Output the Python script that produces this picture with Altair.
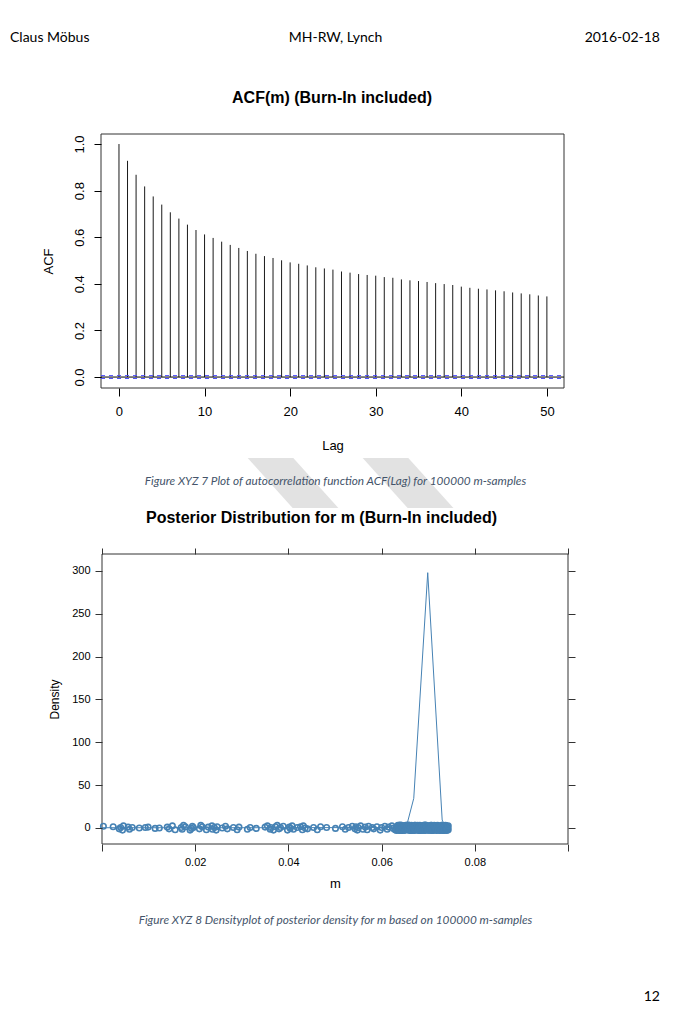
import altair as alt
import pandas as pd

# ---------------- data ----------------
lags = list(range(51))
acf_vals = [1.000, 0.928, 0.868, 0.818, 0.775, 0.740, 0.707, 0.680, 0.654, 0.631,
            0.612, 0.597, 0.581, 0.567, 0.554, 0.541, 0.529, 0.519, 0.511, 0.501,
            0.492, 0.486, 0.479, 0.471, 0.466, 0.461, 0.453, 0.448, 0.442, 0.438,
            0.435, 0.429, 0.426, 0.419, 0.415, 0.412, 0.408, 0.403, 0.399, 0.395,
            0.388, 0.383, 0.379, 0.376, 0.372, 0.368, 0.363, 0.359, 0.355, 0.350, 0.346]
ci_bound = 0.0062

curve_m = [0.0000, 0.0150, 0.0300, 0.0450, 0.0600, 0.0640, 0.0656, 0.0669, 0.0699, 0.0730, 0.0737, 0.0748]
curve_d = [0.3, 0.3, 0.3, 0.4, 0.5, 1.0, 7.4, 34.6, 298.0, 9.3, 1.5, 0.2]

tail_m = [0.0003, 0.0024, 0.0037, 0.0040, 0.0044, 0.0046, 0.0056, 0.0059, 0.0065, 0.0080,
          0.0093, 0.0099, 0.0114, 0.0123, 0.0140, 0.0144, 0.0151, 0.0157, 0.0170, 0.0172,
          0.0175, 0.0179, 0.0189, 0.0192, 0.0194, 0.0196, 0.0209, 0.0212, 0.0215, 0.0224,
          0.0228, 0.0236, 0.0237, 0.0241, 0.0245, 0.0247, 0.0258, 0.0265, 0.0269, 0.0282,
          0.0290, 0.0294, 0.0312, 0.0318, 0.0331, 0.0350, 0.0355, 0.0361, 0.0362, 0.0368,
          0.0372, 0.0376, 0.0380, 0.0383, 0.0389, 0.0398, 0.0402, 0.0404, 0.0408, 0.0411,
          0.0419, 0.0426, 0.0430, 0.0432, 0.0436, 0.0441, 0.0454, 0.0462, 0.0469, 0.0482,
          0.0501, 0.0516, 0.0522, 0.0529, 0.0537, 0.0543, 0.0545, 0.0548, 0.0550, 0.0555,
          0.0560, 0.0565, 0.0569, 0.0572, 0.0580, 0.0583, 0.0590, 0.0597, 0.0600, 0.0607,
          0.0612, 0.0615, 0.0622, 0.0625, 0.0629, 0.0632]
tail_j = [2.0, 1.5, -1.0, 0.5, -2.5, 2.5, 1.0, -1.5, 0.5, 0.0,
          0.5, 1.0, -0.5, 0.0, 1.0, -1.0, 2.5, -2.0, 0.5, -1.5,
          3.0, 1.5, -2.5, -0.5, 2.0, 0.5, -1.0, 3.0, 1.5, -2.0,
          1.0, 2.5, -1.5, 0.5, -2.5, 1.5, 0.0, 2.0, -1.0, 0.5,
          -2.0, 1.0, -1.5, 0.5, -0.5, 1.0, 2.5, -1.5, 0.5, -2.5,
          1.5, 3.0, -1.0, 0.5, 2.0, -2.5, 1.0, -0.5, 2.5, -1.5,
          0.5, 1.5, -2.0, 2.5, 0.0, -1.0, 0.5, -2.0, 1.5, 0.5,
          -0.5, 1.5, -1.5, 0.5, 2.0, -1.0, 1.5, -2.5, 0.5, 2.5,
          -1.5, 1.0, -2.0, 2.0, 0.5, -1.0, 1.5, -2.5, 0.5, 2.0,
          -1.5, 1.0, 2.5, -0.5, -2.0, 1.0]

blob_m = [0.0632, 0.0634, 0.0636, 0.0638, 0.0640, 0.0642, 0.0644, 0.0646,
          0.0648, 0.0650, 0.0652, 0.0654, 0.0656, 0.0658, 0.0660, 0.0662,
          0.0664, 0.0666, 0.0668, 0.0670, 0.0672, 0.0674, 0.0676, 0.0678,
          0.0680, 0.0682, 0.0684, 0.0686, 0.0688, 0.0690, 0.0692, 0.0694,
          0.0696, 0.0698, 0.0700, 0.0702, 0.0704, 0.0706, 0.0708, 0.0710,
          0.0712, 0.0714, 0.0716, 0.0718, 0.0720, 0.0722, 0.0724, 0.0726,
          0.0728, 0.0730, 0.0732, 0.0734, 0.0736, 0.0738, 0.0740, 0.0742]
blob_m2 = [0.0633, 0.0635, 0.0637, 0.0639, 0.0641, 0.0643, 0.0645, 0.0647,
           0.0649, 0.0651, 0.0653, 0.0655, 0.0657, 0.0659, 0.0661, 0.0663,
           0.0665, 0.0667, 0.0669, 0.0671, 0.0673, 0.0675, 0.0677, 0.0679,
           0.0681, 0.0683, 0.0685, 0.0687, 0.0689, 0.0691, 0.0693, 0.0695,
           0.0697, 0.0699, 0.0701, 0.0703, 0.0705, 0.0707, 0.0709, 0.0711,
           0.0713, 0.0715, 0.0717, 0.0719, 0.0721, 0.0723, 0.0725, 0.0727,
           0.0729, 0.0731, 0.0733, 0.0735, 0.0737, 0.0739, 0.0741, 0.0743]
blob_ja = [-3.0, 1.5, -0.5, 3.0, -2.0, 0.5, 2.5, -1.5,
           1.0, -2.5, 3.0, 0.0, -1.0, 2.0, -3.0, 1.5,
           -0.5, 2.5, -2.0, 0.5, 3.0, -1.5, 1.0, -2.5,
           2.0, 0.0, -3.0, 1.5, -1.0, 2.5, -2.0, 0.5,
           3.0, -1.5, 1.0, -2.5, 2.0, -0.5, -3.0, 1.5,
           0.0, 2.5, -2.0, 0.5, 3.0, -1.5, 1.0, -2.5,
           2.0, -0.5, -3.0, 1.5, 0.0, 2.5, -2.0, 0.5]
blob_jb = [1.0, -2.0, 2.5, -1.0, 3.5, -3.0, 0.0, 2.0,
           -2.5, 1.5, -1.0, 3.0, -2.0, 0.5, 2.5, -1.5,
           3.0, -0.5, 1.5, -3.0, 0.0, 2.5, -2.0, 1.0,
           -1.5, 3.0, 0.5, -2.5, 2.0, -1.0, 3.5, -3.0,
           0.5, 2.0, -2.0, 1.0, -1.5, 3.0, 0.0, -2.5,
           2.5, -1.0, 1.5, -3.0, 0.5, 2.0, -2.0, 1.0,
           -0.5, 3.0, -2.5, 1.5, -1.0, 2.5, -3.0, 0.0]
blob_jc = [0.0, 2.5, -2.5, 1.0, -1.0, 3.0, -3.0, 1.5,
           -1.5, 0.5, 2.0, -2.0, 3.5, -0.5, 1.0, -3.0,
           2.0, -1.0, 0.0, 3.0, -2.5, 1.5, -1.5, 2.5,
           -3.0, 0.5, 2.0, -0.5, 1.0, -2.0, 3.0, 0.0,
           -1.0, 2.5, -2.5, 1.5, 0.5, -3.0, 2.0, -1.5,
           3.0, 0.0, -2.0, 1.0, 2.5, -1.0, -3.0, 1.5,
           0.5, -2.5, 2.0, -0.5, 3.0, -1.5, 1.0, -2.0]
blob_jd = [-2.0, 3.0, 0.5, -3.0, 2.0, -1.5, 1.0, -0.5,
           2.5, -2.5, 0.0, 1.5, -1.0, 3.0, -2.0, 0.5,
           -3.0, 2.0, 1.0, -1.5, 2.5, -0.5, 3.0, -2.5,
           1.0, -1.0, 0.0, 2.5, -3.0, 1.5, -2.0, 3.0,
           0.5, -2.5, 2.0, -0.5, 1.0, 3.0, -1.5, -3.0,
           2.0, 0.0, -1.0, 2.5, -2.5, 1.5, 0.5, -2.0,
           3.0, -1.5, 1.0, -3.0, 2.0, 0.0, -0.5, 2.5]

acf_x_ticks = [0, 10, 20, 30, 40, 50]
acf_y_ticks = [0.0, 0.2, 0.4, 0.6, 0.8, 1.0]
dens_x_ticks = [0.0, 0.02, 0.04, 0.06, 0.08, 0.10]
dens_y_ticks = [0, 50, 100, 150, 200, 250, 300]

header_left = "Claus Möbus"
header_mid = "MH-RW, Lynch"
header_right = "2016-02-18"
title_acf = "ACF(m) (Burn-In included)"
title_dens = "Posterior Distribution for m (Burn-In included)"
caption_acf = "Figure XYZ 7 Plot of autocorrelation function ACF(Lag) for 100000 m-samples"
caption_dens = "Figure XYZ 8 Densityplot of posterior density for m based on 100000 m-samples"
page_no = "12"

# ---------------- layout ----------------
W, H = 664, 1014
RF = "Liberation Sans"
DF = "Lato"
BLUE = "#4682b4"
CAPC = "#44546a"

acf_xdom = [-2.1, 52.0]
acf_ydom = [-0.047, 1.043]
acf_xr = [93, 556]
acf_yr = [380, 126]
den_xdom = [0.0, 0.1]
den_ydom = [-18.7, 319.8]
den_xr = [94, 560]
den_yr = [836, 546]

xa = alt.Scale(domain=acf_xdom, range=acf_xr, nice=False, zero=False)
ya = alt.Scale(domain=acf_ydom, range=acf_yr, nice=False, zero=False)
xd = alt.Scale(domain=den_xdom, range=den_xr, nice=False, zero=False)
yd = alt.Scale(domain=den_ydom, range=den_yr, nice=False, zero=False)

acf_df = pd.DataFrame({"lag": lags, "acf": acf_vals, "zero": [0.0] * len(lags)})
acf_frame_df = pd.DataFrame({"x0": [acf_xdom[0]], "x1": [acf_xdom[1]],
                             "y0": [acf_ydom[0]], "y1": [acf_ydom[1]]})
hline_df = pd.DataFrame({"x0": [acf_xdom[0]] * 3, "x1": [acf_xdom[1]] * 3,
                         "y": [0.0, ci_bound, -ci_bound], "kind": ["zero", "ci", "ci"]})

acf_x_axis = alt.Axis(orient="bottom", offset=acf_yr[0] - H, values=acf_x_ticks, domain=False,
                      grid=False, tickSize=8, tickColor="black", labelFont=RF, labelFontSize=13,
                      labelColor="black", labelPadding=9, labelFlush=False, labelOverlap=False,
                      title="Lag", titleFont=RF, titleFontSize=13, titleFontWeight="normal",
                      titleColor="black", titlePadding=21, zindex=2)
acf_y_axis = alt.Axis(orient="left", offset=-acf_xr[0], values=acf_y_ticks, format=".1f",
                      domain=False, grid=False, tickSize=7, tickColor="black", labelFont=RF,
                      labelFontSize=13, labelColor="black", labelAngle=270, labelAlign="center",
                      labelBaseline="bottom", labelPadding=8, labelOverlap=False,
                      title="ACF", titleFont=RF, titleFontSize=13, titleFontWeight="normal",
                      titleColor="black", titlePadding=18, zindex=2)

acf_frame = alt.Chart(acf_frame_df).mark_rect(fillOpacity=0, stroke="#333333", strokeWidth=1).encode(
    x=alt.X("x0:Q", scale=xa, axis=None), x2="x1:Q",
    y=alt.Y("y0:Q", scale=ya, axis=None), y2="y1:Q")
acf_stems = alt.Chart(acf_df).mark_rule(color="#1a1a1a", strokeWidth=1).encode(
    x=alt.X("lag:Q", scale=xa, axis=acf_x_axis),
    y=alt.Y("acf:Q", scale=ya, axis=acf_y_axis), y2="zero:Q")
acf_zero = alt.Chart(hline_df).transform_filter("datum.kind == 'zero'").mark_rule(
    color="black", strokeWidth=1).encode(
    x=alt.X("x0:Q", scale=xa, axis=None), x2="x1:Q", y=alt.Y("y:Q", scale=ya, axis=None))
acf_ci = alt.Chart(hline_df).transform_filter("datum.kind == 'ci'").mark_rule(
    color="#4d4dff", strokeWidth=1, strokeDash=[4, 4]).encode(
    x=alt.X("x0:Q", scale=xa, axis=None), x2="x1:Q", y=alt.Y("y:Q", scale=ya, axis=None))

acf_group = alt.layer(acf_frame, acf_stems, acf_zero, acf_ci).resolve_axis(x="independent", y="independent")

# density panel
curve_df = pd.DataFrame({"m": curve_m, "d": curve_d, "i": list(range(len(curve_m)))})
pts_df = pd.DataFrame({"m": tail_m + blob_m + blob_m + blob_m2 + blob_m2,
                       "j": tail_j + blob_ja + blob_jb + blob_jc + blob_jd})
den_frame_df = pd.DataFrame({"x0": [den_xdom[0]], "x1": [den_xdom[1]],
                             "y0": [den_ydom[0]], "y1": [den_ydom[1]]})

label_expr = "datum.value > 0.005 && datum.value < 0.095 ? format(datum.value, '.2f') : ''"
den_x_axis = alt.Axis(orient="bottom", offset=den_yr[0] - H, values=dens_x_ticks, labelExpr=label_expr,
                      domain=False, grid=False, tickSize=7, tickColor="#333333", labelFont=RF,
                      labelFontSize=11, labelColor="black", labelPadding=5, labelFlush=False,
                      labelOverlap=False, title="m", titleFont=RF, titleFontSize=13,
                      titleFontWeight="normal", titleColor="black", titlePadding=10, zindex=2)
den_y_axis = alt.Axis(orient="left", offset=-den_xr[0], values=dens_y_ticks, domain=False, grid=False,
                      tickSize=7, tickColor="#333333", labelFont=RF, labelFontSize=11,
                      labelColor="black", labelPadding=5, labelOverlap=False, title="Density",
                      titleFont=RF, titleFontSize=12, titleFontWeight="normal", titleColor="black",
                      titlePadding=10, zindex=2)
den_top_axis = alt.Axis(orient="top", offset=-den_yr[1], values=dens_x_ticks, domain=False, grid=False,
                        labels=False, tickSize=6, tickColor="#333333", title=None, zindex=2)
den_right_axis = alt.Axis(orient="right", offset=den_xr[1] - W, values=dens_y_ticks, domain=False,
                          grid=False, labels=False, tickSize=7, tickColor="#333333", title=None, zindex=2)

den_frame = alt.Chart(den_frame_df).mark_rect(fillOpacity=0, stroke="#333333", strokeWidth=1).encode(
    x=alt.X("x0:Q", scale=xd, axis=None), x2="x1:Q",
    y=alt.Y("y0:Q", scale=yd, axis=None), y2="y1:Q")
den_line = alt.Chart(curve_df).mark_line(color=BLUE, strokeWidth=1).encode(
    x=alt.X("m:Q", scale=xd, axis=den_x_axis),
    y=alt.Y("d:Q", scale=yd, axis=den_y_axis),
    order="i:Q")
den_pts = alt.Chart(pts_df).mark_point(shape="circle", filled=False, color=BLUE, size=30,
                                       strokeWidth=1.6, opacity=1).encode(
    x=alt.X("m:Q", scale=xd, axis=None), y=alt.Y("j:Q", scale=yd, axis=None))
den_axes2 = alt.Chart(curve_df).mark_point(opacity=0).encode(
    x=alt.X("m:Q", scale=xd, axis=den_top_axis),
    y=alt.Y("d:Q", scale=yd, axis=den_right_axis))

den_group = alt.layer(den_frame, den_pts, den_line, den_axes2).resolve_axis(x="independent", y="independent")

# texts and decoration
one = pd.DataFrame({"a": [0]})


def txt(s, x, y, font, size, align="center", weight="normal", style="normal", color="black"):
    return alt.Chart(one).mark_text(text=s, font=font, fontSize=size, align=align, baseline="middle",
                                    fontWeight=weight, fontStyle=style, color=color).encode(
        x=alt.value(x), y=alt.value(y))


def band(x1, y1, x2, y2):
    return alt.Chart(one).mark_rule(color="#e2e2e2", strokeWidth=34, strokeCap="butt").encode(
        x=alt.value(x1), y=alt.value(y1), x2=alt.value(x2), y2=alt.value(y2))


def white_box(x1, y1, x2, y2):
    return alt.Chart(one).mark_rect(color="white").encode(
        x=alt.value(x1), y=alt.value(y1), x2=alt.value(x2), y2=alt.value(y2))


layers = [
    band(240, 425, 330, 525),
    band(355, 425, 445, 525),
    white_box(200, 400, 480, 450),
    white_box(200, 500, 480, 540),
    txt(header_left, 2, 30, DF, 14, align="left"),
    txt(header_mid, 327.5, 30, DF, 14),
    txt(header_right, 652, 30, DF, 14, align="right"),
    txt(title_acf, 324, 90, RF, 16, weight="bold"),
    txt(caption_acf, 327.5, 473, DF, 11.8, style="italic", color=CAPC),
    txt(title_dens, 313.5, 510, RF, 16, weight="bold"),
    txt(caption_dens, 327.5, 912, DF, 11.8, style="italic", color=CAPC),
    txt(page_no, 652, 989, DF, 14, align="right"),
    acf_group,
    den_group,
]

chart = alt.layer(*layers).resolve_scale(x="independent", y="independent").resolve_axis(
    x="independent", y="independent").properties(
    width=W, height=H, autosize=alt.AutoSizeParams(type="none"), padding=0,
    background="white").configure_view(stroke=None)

chart.save("out.html", embed_options={"renderer": "svg", "actions": False})
